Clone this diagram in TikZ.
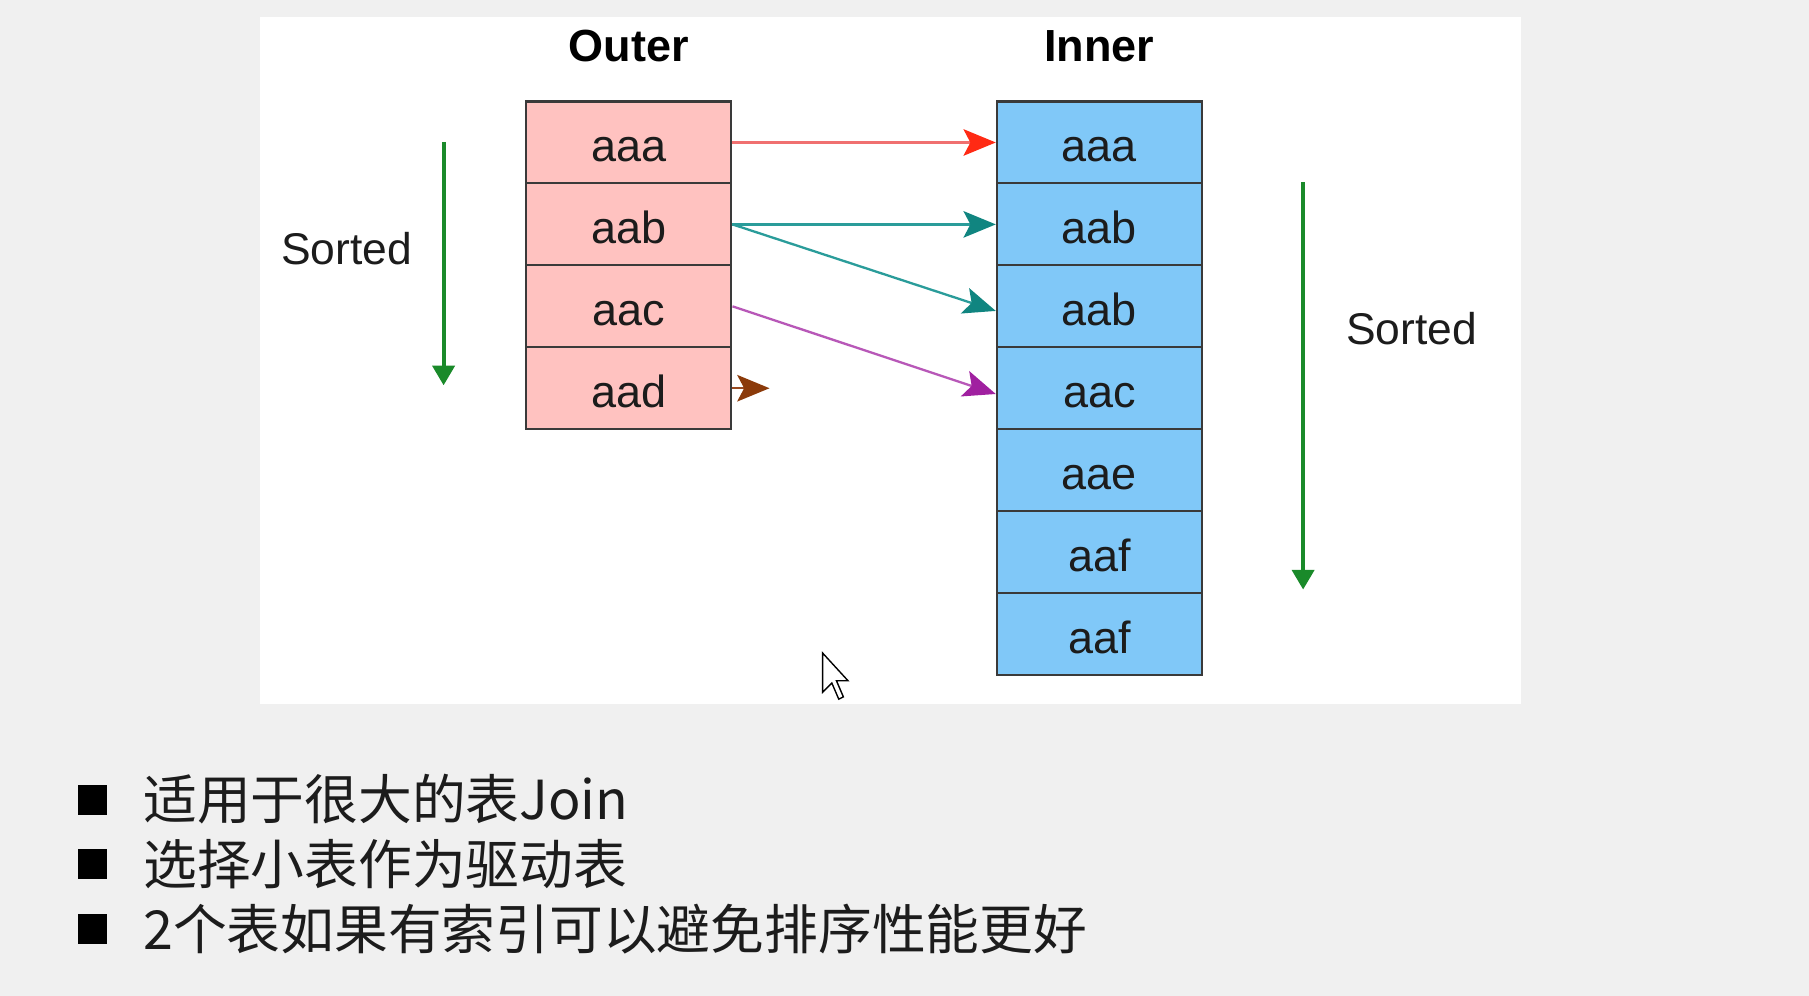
\documentclass[tikz,border=0pt]{standalone}
\usepackage{fontspec}
\setmainfont{Liberation Sans}
\newfontfamily\cjk{Noto Sans CJK SC}
\usetikzlibrary{arrows.meta,calc}
\definecolor{bg}{HTML}{F0F0F0}
\definecolor{pinkfill}{HTML}{FFC2C0}
\definecolor{bluefill}{HTML}{80C8F8}
\definecolor{cellline}{HTML}{3A3A3A}
\definecolor{txt}{HTML}{1C1C1C}
\definecolor{sortgreen}{HTML}{1A8A2A}
\definecolor{redline}{HTML}{F07070}
\definecolor{redtip}{HTML}{FF2A14}
\definecolor{tealline}{HTML}{2A9C9A}
\definecolor{tealtip}{HTML}{108580}
\definecolor{purpline}{HTML}{B858B8}
\definecolor{purptip}{HTML}{A020A0}
\definecolor{brownline}{HTML}{9A4A20}
\definecolor{browntip}{HTML}{8B3A0A}
\tikzset{
  cellbox/.style={draw=cellline, line width=1.8pt, minimum width=178pt, minimum height=71pt,
    inner sep=0pt, text=txt, font=\fontsize{39}{40}\selectfont, text height=33pt, text depth=0pt},
  ocell/.style={cellbox, fill=pinkfill},
  icell/.style={cellbox, fill=bluefill},
  titletext/.style={font=\bfseries\fontsize{39}{42}\selectfont, text=black, inner sep=0pt, anchor=base},
  sortlabel/.style={font=\fontsize{38.5}{42}\selectfont, text=txt, inner sep=0pt, anchor=base},
  sortarrow/.style={draw=sortgreen, line width=3.5pt, -{Triangle[length=17pt,width=19pt]}},
  link/.style={line width=2pt},
  bulletbox/.style={fill=black, minimum width=25pt, minimum height=26pt, inner sep=0pt},
  bullettext/.style={anchor=west, inner sep=0pt, text=txt, font=\cjk\fontsize{46.6}{50}\selectfont}
}
\begin{document}
\begin{tikzpicture}[x=1pt,y=-1pt]
\fill[bg] (0,0) rectangle (1568,863);
\useasboundingbox (0,0) rectangle (1568,863);
\fill[white] (225,15) rectangle (1318,610);

% titles
\node[titletext] (touter) at (545,53) {Outer};
\node[titletext] (tinner) at (953,53) {Inner};

% outer table
\node[ocell] (o1) at (545,123.5) {aaa};
\node[ocell] (o2) at (545,194.5) {aab};
\node[ocell] (o3) at (545,265.5) {aac};
\node[ocell] (o4) at (545,336.5) {aad};

% inner table
\node[icell] (i1) at (953,123.5) {aaa};
\node[icell] (i2) at (953,194.5) {aab};
\node[icell] (i3) at (953,265.5) {aab};
\node[icell] (i4) at (953,336.5) {aac};
\node[icell] (i5) at (953,407.5) {aae};
\node[icell] (i6) at (953,478.5) {aaf};
\node[icell] (i7) at (953,549.5) {aaf};

% sorted labels and arrows
\node[sortlabel] (sl) at (300.5,229.5) {Sorted};
\node[sortlabel] (sr) at (1223.5,299) {Sorted};
\coordinate (ls1) at (384.5,123);
\coordinate (ls2) at (384.5,334);
\coordinate (rs1) at (1129.5,158);
\coordinate (rs2) at (1129.5,511);
\draw[sortarrow] (ls1) -- (ls2);
\draw[sortarrow] (rs1) -- (rs2);

% connectors
\tikzset{tipr/.style={-{Stealth[length=28pt,width=23pt,inset=6pt,color=#1]}}}
\draw[link, redline, tipr=redtip] (o1.east) -- (i1.west);
\draw[link, tealline, tipr=tealtip] (o2.east) -- (i2.west);
\draw[link, tealline, tipr=tealtip] (o2.east) -- ([yshift=-4pt]i3.west);
\draw[link, purpline, tipr=purptip] (o3.east) -- ([yshift=-5pt]i4.west);
\coordinate (bend) at (667,336.5);
\draw[link, brownline, tipr=browntip] (o4.east) -- (bend);

% mouse cursor
\draw[black, fill=white, line width=1.2pt, line join=miter]
  (713,566) -- (713,600) -- (721,592) -- (727,606) -- (731,604) -- (725,590) -- (735,590) -- cycle;

% bullet list
\node[bulletbox] (b1) at (80.5,693) {};
\node[bulletbox] (b2) at (80.5,749) {};
\node[bulletbox] (b3) at (80.5,805) {};
\node[bullettext] (t1) at (124,693) {适用于很大的表Join};
\node[bullettext] (t2) at (124,749) {选择小表作为驱动表};
\node[bullettext] (t3) at (124,805) {2个表如果有索引可以避免排序性能更好};
\end{tikzpicture}
\end{document}
